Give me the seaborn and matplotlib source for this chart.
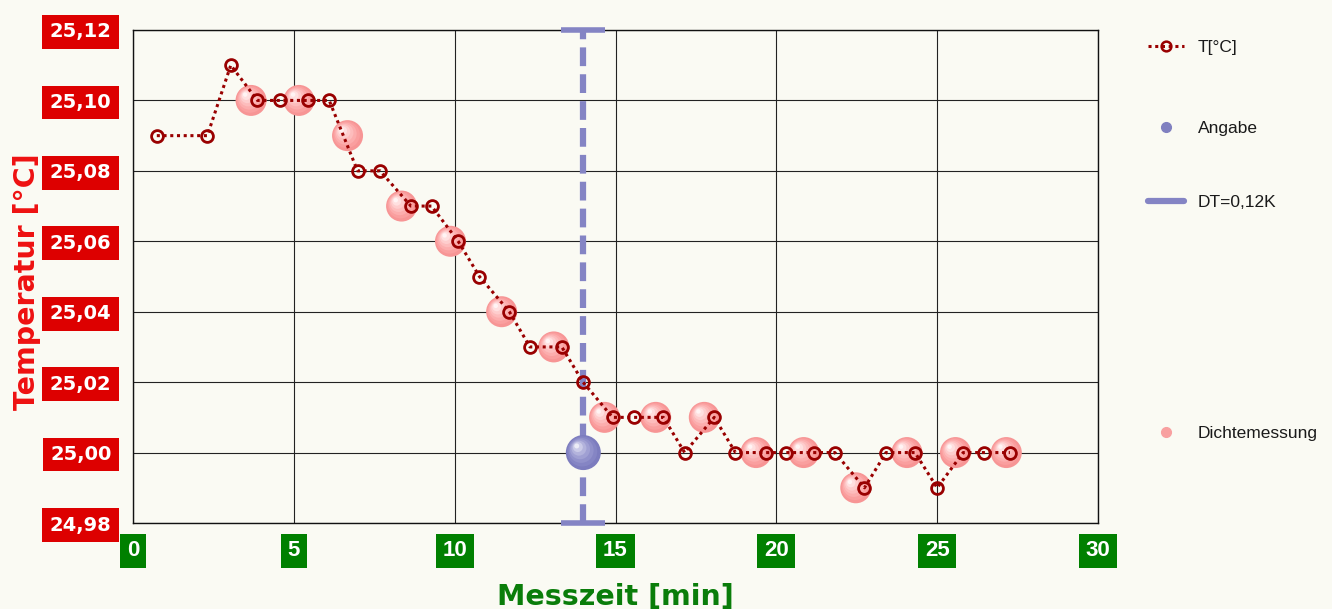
import matplotlib
matplotlib.use('Agg')
import matplotlib.pyplot as plt
import matplotlib.transforms as mtransforms
from matplotlib.lines import Line2D
import seaborn as sns

# temperature readings
t_min = [0.74, 2.31, 3.04, 3.87, 4.56, 5.43, 6.10, 6.98, 7.68, 8.64, 9.28, 10.11,
         10.77, 11.70, 12.34, 13.33, 13.99, 14.91, 15.57, 16.49, 17.15, 18.07, 18.73,
         19.67, 20.29, 21.18, 21.82, 22.74, 23.41, 24.31, 25.00, 25.81, 26.45, 27.26]
t_val = [25.09, 25.09, 25.11, 25.10, 25.10, 25.10, 25.10, 25.08, 25.08, 25.07, 25.07, 25.06,
         25.05, 25.04, 25.03, 25.03, 25.02, 25.01, 25.01, 25.01, 25.00, 25.01, 25.00,
         25.00, 25.00, 25.00, 25.00, 24.99, 25.00, 25.00, 24.99, 25.00, 25.00, 25.00]

# density measurements
d_min = [3.67, 5.16, 6.67, 8.35, 9.87, 11.46, 13.08, 14.66, 16.25, 17.76, 19.37,
         20.85, 22.47, 24.06, 25.57, 27.15]
d_val = [25.10, 25.10, 25.09, 25.07, 25.06, 25.04, 25.03, 25.01, 25.01, 25.01, 25.00,
         25.00, 24.99, 25.00, 25.00, 25.00]

# stated value and DT band
angabe_min = [14.0]
angabe_val = [25.00]
dt_min = 14.0
dt_low, dt_high = 24.98, 25.12

x_ticks = [0, 5, 10, 15, 20, 25, 30]
y_ticks = [24.98, 25.00, 25.02, 25.04, 25.06, 25.08, 25.10, 25.12]
y_tick_labels = ['24,98', '25,00', '25,02', '25,04', '25,06', '25,08', '25,10', '25,12']

bg = '#fafaf3'
sns.set_theme(style='whitegrid', rc={
    'figure.facecolor': bg, 'axes.facecolor': bg, 'axes.edgecolor': '#111111',
    'grid.color': '#222222', 'grid.linewidth': 0.8, 'axes.linewidth': 1.0,
})
plt.rcParams['font.family'] = ['DejaVu Sans']

fig = plt.figure(figsize=(13.32, 6.09), dpi=100)
ax = fig.add_axes([133 / 1332, 1 - 523 / 609, 965 / 1332, 493 / 609])
ax.set_axisbelow(True)


def shaded_balls(xs, ys, diam, colors, z):
    # stacked discs, offset up-left, to fake a glossy sphere
    n = len(colors)
    for i, c in enumerate(colors):
        d = diam * (1 - i / n)
        off = diam * 0.22 * i / n
        tr = mtransforms.offset_copy(ax.transData, fig, x=-off, y=off, units='dots')
        ax.scatter(xs, ys, s=(d * 72 / 100) ** 2, color=c, edgecolors='none',
                   transform=tr, zorder=z, clip_on=False)


pink = ['#f79595', '#fa9f9f', '#fcadad', '#fdbcbc', '#fecdcd', '#ffe0e0', '#fff4f4']
blue = ['#7c7cbe', '#8585c4', '#9191cb', '#a0a0d3', '#b3b3dc', '#cbcbe8', '#ececf6']

shaded_balls(d_min, d_val, 31, pink, 2)

# DT line with caps
eb = ax.errorbar([dt_min], [(dt_low + dt_high) / 2], yerr=[(dt_high - dt_low) / 2],
                 fmt='none', ecolor='#8484c4', elinewidth=4.5, capsize=16, capthick=4,
                 zorder=3, clip_on=False)
for col in eb[2]:
    col.set_linestyle((0, (3.0, 1.3)))
    col.set_clip_on(False)
for cap in eb[1]:
    cap.set_clip_on(False)

shaded_balls(angabe_min, angabe_val, 35, blue, 4)

sns.lineplot(x=t_min, y=t_val, ax=ax, color='#990000', linestyle=(0, (1, 1.2)),
             linewidth=2.2, marker='o', markersize=8.5, markerfacecolor='none',
             markeredgecolor='#990000', markeredgewidth=2.0, estimator=None,
             sort=False, zorder=5)

ax.set_xlim(0, 30)
ax.set_ylim(dt_low, dt_high)
ax.set_xticks(x_ticks, labels=[str(v) for v in x_ticks])
ax.set_yticks(y_ticks, labels=y_tick_labels)
ax.grid(True, which='major')

ax.tick_params(axis='y', direction='out', length=5, width=0.8, color='#222222',
               pad=10.5, labelsize=14, labelcolor='white')
ax.tick_params(axis='x', direction='inout', length=5, width=0.8, color='#222222',
               pad=10, labelsize=16, labelcolor='white')
for t in ax.get_yticklabels():
    t.set_fontweight('bold')
    t.set_bbox(dict(boxstyle='square,pad=0.38', fc='#dd0000', ec='none'))
for t in ax.get_xticklabels():
    t.set_fontweight('bold')
    t.set_family(['Liberation Sans', 'DejaVu Sans'])
    t.set_bbox(dict(boxstyle='square,pad=0.3', fc='#008000', ec='none'))

ax.set_xlabel('Messzeit [min]', fontsize=20.5, fontweight='bold', color='#0a7d0a')
ax.set_ylabel('Temperatur [°C]', fontsize=20.5, fontweight='bold', color='#ee1111')
ax.xaxis.set_label_coords(0.5, -0.121)
ax.yaxis.set_label_coords(-0.095, 0.49)

for s in ax.spines.values():
    s.set_color('#111111')

# legend entries, placed one by one like the original
leg_items = [
    (Line2D([], [], color='#990000', linestyle=(0, (1, 1.2)), linewidth=2.2, marker='o',
            markersize=7, markerfacecolor='none', markeredgewidth=1.8), 'T[°C]', 47),
    (Line2D([], [], linestyle='none', marker='o', markersize=7, color='#8080c0'), 'Angabe', 128),
    (Line2D([], [], color='#8484c4', linewidth=4.5), 'DT=0,12K', 202),
    (Line2D([], [], linestyle='none', marker='o', markersize=7, color='#f8a0a0'), 'Dichtemessung', 433),
]
for h, lab, ypix in leg_items:
    fig.legend(handles=[h], labels=[lab], loc='center left',
               bbox_to_anchor=(1148 / 1332, 1 - ypix / 609), frameon=False,
               borderpad=0, borderaxespad=0, handlelength=2.1, handletextpad=0.75,
               prop={'family': ['Liberation Sans', 'DejaVu Sans'], 'size': 12.5},
               labelcolor='#1a1a1a')

fig.savefig('out.png', dpi=100, facecolor=bg)
